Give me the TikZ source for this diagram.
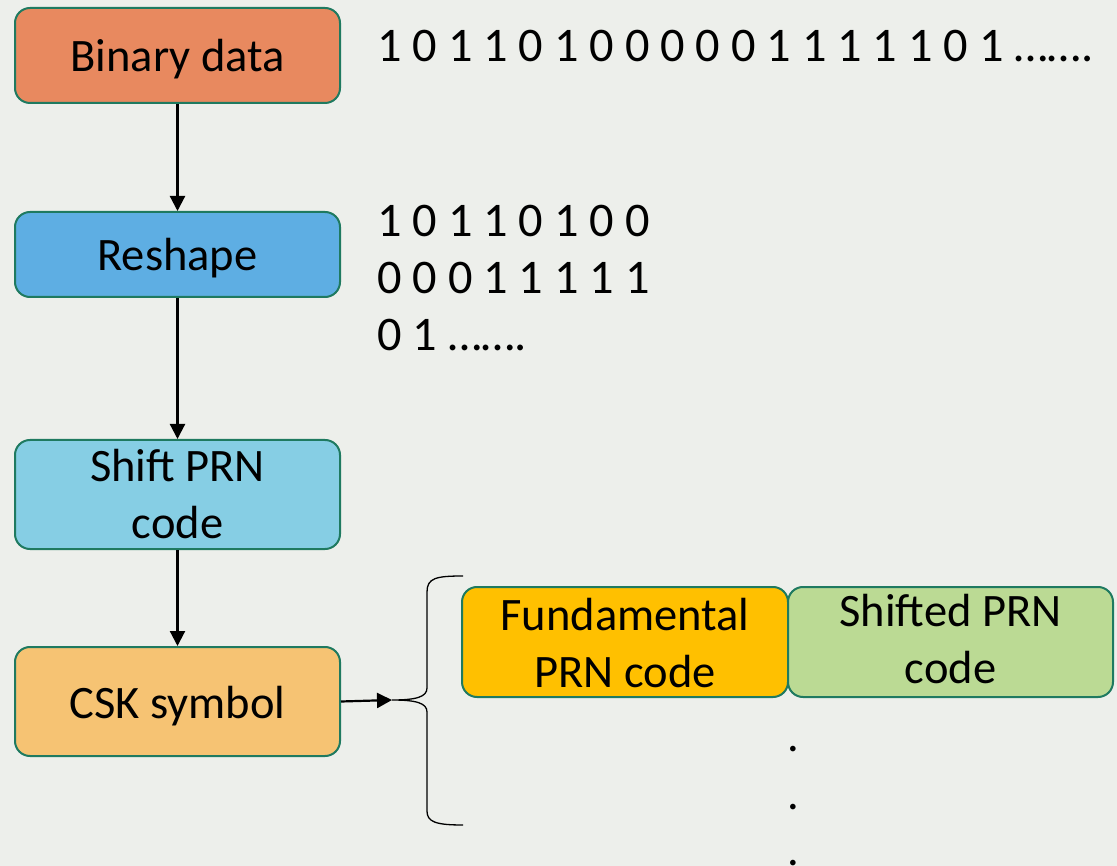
\documentclass[tikz,border=0pt]{standalone}
\usepackage{fontspec}
\setmainfont{Carlito}
\usetikzlibrary{arrows.meta}
\definecolor{bg}{HTML}{EDEFEB}
\definecolor{edge}{HTML}{1F7A60}
\definecolor{cBinary}{HTML}{E8895F}
\definecolor{cReshape}{HTML}{5EAEE3}
\definecolor{cShift}{HTML}{86CEE4}
\definecolor{cCsk}{HTML}{F6C373}
\definecolor{cFund}{HTML}{FFC000}
\definecolor{cShifted}{HTML}{BBDA94}
\tikzset{
  big/.style={font=\fontsize{46.5pt}{56pt}\selectfont},
  stagebox/.style={draw=edge, line width=2pt, rounded corners=15pt,
    minimum width=325pt, inner sep=0pt},
  label text/.style={big, anchor=base, inner sep=0pt},
  bits/.style={font=\fontsize{48.3pt}{57pt}\selectfont, anchor=base west, inner sep=0pt},
  flow/.style={line width=2.2pt, -{Triangle[length=15pt,width=15pt]}},
  bracket/.style={line width=1.3pt}
}
\begin{document}
\begin{tikzpicture}[x=1pt, y=-1pt]
  % canvas
  \fill[bg] (0,0) rectangle (1117,866);
  \useasboundingbox (0,0) rectangle (1117,866);

  % processing chain
  \node[stagebox, fill=cBinary,  minimum height=95pt]  (bin)   at (177.5,55.5)  {};
  \node[stagebox, fill=cReshape, minimum height=85pt]  (resh)  at (177.5,254.5) {};
  \node[stagebox, fill=cShift,   minimum height=109pt] (shift) at (177.5,494.5) {};
  \node[stagebox, fill=cCsk,     minimum height=109pt] (csk)   at (177.5,701.5) {};

  \node[label text] (binT)   at (177.5,72)  {Binary data};
  \node[label text] (reshT)  at (177.5,271) {Reshape};
  \node[label text] (shiftT) at (177.5,482) {Shift PRN};
  \node[label text] (shiftU) at (177.5,538) {code};
  \node[label text] (cskT)   at (177.5,718) {CSK symbol};

  \draw[flow] (bin.south)   -- (resh.north);
  \draw[flow] (resh.south)  -- (shift.north);
  \draw[flow] (shift.south) -- (csk.north);

  % bit streams
  \node[bits] (stream) at (377,62)  {1 0 1 1 0 1 0 0 0 0 0 1 1 1 1 1 0 1 …….};
  \node[bits] (row1)   at (377,237) {1 0 1 1 0 1 0 0};
  \node[bits] (row2)   at (377,294) {0 0 0 1 1 1 1 1};
  \node[bits] (row3)   at (377,351) {0 1 …….};

  % symbol composition
  \node[stagebox, fill=cFund,    minimum width=326pt, minimum height=110pt] (fund)  at (625,642)   {};
  \node[stagebox, fill=cShifted, minimum height=110pt]                      (shd)   at (950.5,642) {};
  \node[label text] (fundT) at (625,630) {Fundamental};
  \node[label text] (fundU) at (625,687) {PRN code};
  \node[label text] (shdT)  at (950.5,626) {Shifted PRN};
  \node[label text] (shdU)  at (950.5,683) {code};

  % brace grouping the code sequences
  \coordinate (tip) at (392,700);
  \draw[bracket] (463,576) .. controls (436,576) and (427,578) .. (427,592)
    -- (427,688) .. controls (427,697) and (416,700) .. (tip)
    .. controls (416,700) and (427,703) .. (427,712)
    -- (427,811) .. controls (427,822) and (436,825) .. (463,825);
  \draw[flow] (csk.east) -- (tip);

  % continuation dots
  \node[label text] (d1) at (793,751) {.};
  \node[label text] (d2) at (793,809) {.};
  \node[label text] (d3) at (793,865) {.};
\end{tikzpicture}
\end{document}
